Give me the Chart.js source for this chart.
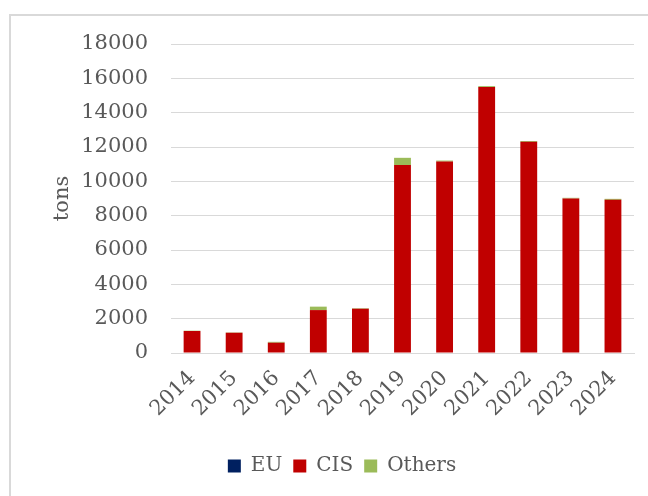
<!DOCTYPE html>
<html>
<head>
<meta charset="utf-8">
<script src="https://cdn.jsdelivr.net/npm/chart.js@4/dist/chart.umd.min.js"></script>
<style>
  html, body { margin: 0; padding: 0; background: #ffffff; }
  #wrap { position: relative; width: 648px; height: 496px; overflow: hidden; }
  #frame {
    position: absolute; left: 9px; top: 14px; width: 700px; height: 600px;
    border-left: 2px solid #d9d9d9; border-top: 2px solid #d9d9d9;
  }
  #c { position: absolute; left: 0; top: 0; }
</style>
</head>
<body>
<div id="wrap">
  <div id="frame"></div>
  <canvas id="c" width="648" height="496"></canvas>
</div>
<script>
// Yearly volumes by origin, tons
const years = ['2014', '2015', '2016', '2017', '2018', '2019', '2020', '2021', '2022', '2023', '2024'];
const euTons = [0, 0, 0, 0, 0, 0, 0, 0, 0, 0, 0];
const cisTons = [1280, 1180, 600, 2500, 2580, 10950, 11150, 15500, 12300, 9000, 8920];
const otherTons = [20, 20, 50, 200, 30, 420, 60, 50, 50, 40, 60];
const yTicks = [0, 2000, 4000, 6000, 8000, 10000, 12000, 14000, 16000, 18000];

const textColor = '#595959';
const gridColor = '#d9d9d9';
const fontFamily = '"DejaVu Serif", "Liberation Serif", serif';

new Chart(document.getElementById('c'), {
  type: 'bar',
  data: {
    labels: years,
    datasets: [
      { label: 'EU', data: euTons, backgroundColor: '#002060' },
      { label: 'CIS', data: cisTons, backgroundColor: '#C00000' },
      { label: 'Others', data: otherTons, backgroundColor: '#9BBB59' }
    ]
  },
  options: {
    responsive: false,
    animation: false,
    layout: { padding: { left: 50, right: 14, top: 44, bottom: 10 } },
    datasets: { bar: { categoryPercentage: 1.0, barPercentage: 0.4 } },
    plugins: {
      tooltip: { enabled: false },
      legend: {
        position: 'bottom',
        labels: {
          color: textColor,
          font: { family: fontFamily, size: 20 },
          boxWidth: 13,
          boxHeight: 13,
          padding: 11
        }
      }
    },
    scales: {
      x: {
        stacked: true,
        grid: { display: false },
        border: { display: true, color: gridColor, width: 1 },
        ticks: {
          color: textColor,
          font: { family: fontFamily, size: 21 },
          autoSkip: false,
          minRotation: 45,
          maxRotation: 45,
          padding: 5
        },
        afterFit: (s) => { s.height = 92; }
      },
      y: {
        stacked: true,
        min: 0,
        max: yTicks[yTicks.length - 1],
        afterBuildTicks: (s) => { s.ticks = yTicks.map(v => ({ value: v })); },
        grid: { color: gridColor, lineWidth: 1, drawTicks: false },
        border: { display: false },
        ticks: {
          color: textColor,
          font: { family: fontFamily, size: 21 },
          padding: 23,
          callback: (v) => String(v)
        },
        title: {
          display: true,
          text: 'tons',
          color: textColor,
          font: { family: fontFamily, size: 21 },
          padding: { top: 0, bottom: 0 }
        },
        afterFit: (s) => { s.width = 121; }
      }
    }
  }
});
</script>
</body>
</html>
